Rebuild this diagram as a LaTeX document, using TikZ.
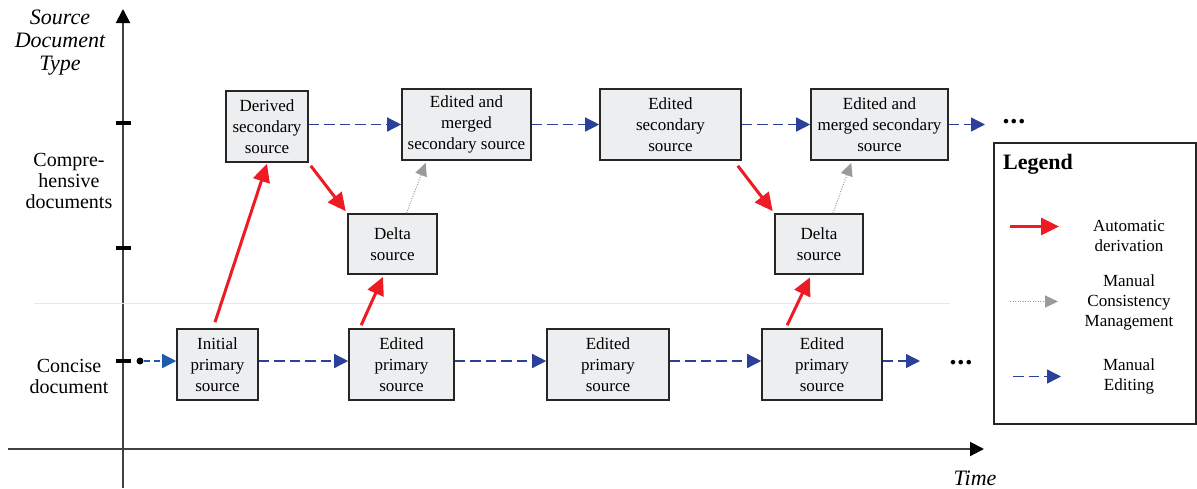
\documentclass[tikz,border=0pt]{standalone}
\usepackage{fontspec}
\setmainfont{Liberation Serif}
\usetikzlibrary{arrows.meta}
\definecolor{autored}{HTML}{ED1C24}
\definecolor{editblue}{HTML}{2B4199}
\definecolor{initblue}{HTML}{1E5BAA}
\definecolor{consgray}{HTML}{9A9A9A}
\definecolor{boxfill}{HTML}{EDEEF0}
\definecolor{boxline}{HTML}{262626}
\definecolor{axisgray}{HTML}{404040}
\definecolor{sepgray}{HTML}{E6E6E6}
\begin{document}
\begin{tikzpicture}[x=1pt,y=-1pt,
  box/.style={draw=boxline, line width=1.6pt, fill=boxfill, align=center, inner sep=0pt,
    font=\fontsize{17}{21}\selectfont},
  autoarrow/.style={draw=autored, line width=3pt, -{Triangle[length=18pt,width=17pt]}},
  editarrow/.style={draw=editblue, line width=1.4pt, dash pattern=on 10.5pt off 5pt,
    -{Triangle[length=14pt,width=14pt]}},
  initarrow/.style={draw=initblue, line width=1.5pt, dash pattern=on 6pt off 4pt,
    -{Triangle[length=14pt,width=14pt]}},
  consarrow/.style={draw=consgray, line width=1pt, dash pattern=on 1pt off 1.5pt,
    -{Triangle[length=13pt,width=12pt]}},
  axisline/.style={draw=axisgray, line width=2pt, -{Triangle[length=14pt,width=14pt,color=black]}},
  tickmark/.style={draw=black, line width=4.5pt},
  axislabel/.style={align=center, font=\fontsize{20}{21}\selectfont},
  axistitle/.style={align=center, font=\fontsize{22}{23}\selectfont\itshape},
  legtext/.style={align=center, font=\fontsize{17}{20}\selectfont},
  dotsnode/.style={anchor=base, font=\fontsize{28}{30}\selectfont\bfseries, inner sep=0pt},
]
\useasboundingbox (0,0) rectangle (1197,488);

% axes
\coordinate (yb) at (123,488);
\coordinate (yt) at (123,9);
\coordinate (xl) at (8,449);
\coordinate (xr) at (984,449);
\draw[axisline] (yb) -- (yt);
\draw[axisline] (xl) -- (xr);
\draw[tickmark] (116,123) -- (131,123);
\draw[tickmark] (116,248) -- (131,248);
\draw[tickmark] (116,361) -- (131,361);
\draw[draw=sepgray, line width=1pt] (34,303) -- (950,303);

\node[axistitle] (ttl) at (60,43) {Source\\Document\\Type};
\node[axislabel] (comp) at (69,181) {Compre-\\hensive\\documents};
\node[axislabel] (conc) at (69,376) {Concise\\document};
\node[anchor=base, font=\fontsize{22}{23}\selectfont\itshape] (time) at (975,485) {Time};

% boxes
\node[box, minimum width=82pt, minimum height=71pt] (b1) at (267,126.5) {Derived\\secondary\\source};
\node[box, minimum width=129pt, minimum height=71pt] (b2) at (466.5,124.5) {Edited and\\merged\\secondary source};
\node[box, minimum width=141pt, minimum height=71pt] (b3) at (670.5,124.5) {Edited\\secondary\\source};
\node[box, minimum width=137pt, minimum height=71pt] (b4) at (879.5,124.5) {Edited and\\merged secondary\\source};
\node[box, minimum width=89pt, minimum height=60pt] (d1) at (392.5,244) {Delta\\source};
\node[box, minimum width=88pt, minimum height=60pt] (d2) at (819,244) {Delta\\source};
\node[box, minimum width=81pt, minimum height=71pt] (p1) at (217.5,364.5) {Initial\\primary\\source};
\node[box, minimum width=105pt, minimum height=71pt] (p2) at (401.5,364.5) {Edited\\primary\\source};
\node[box, minimum width=122pt, minimum height=71pt] (p3) at (608,364.5) {Edited\\primary\\source};
\node[box, minimum width=120pt, minimum height=71pt] (p4) at (822,364.5) {Edited\\primary\\source};

% manual editing
\node[circle, fill=black, inner sep=0pt, minimum size=7pt] (s0) at (140,361) {};
\draw[initarrow] (s0) -- ([yshift=3.5pt]p1.west);
\draw[editarrow] ([yshift=3.5pt]p1.east) -- ([yshift=3.5pt]p2.west);
\draw[editarrow] ([yshift=3.5pt]p2.east) -- ([yshift=3.5pt]p3.west);
\draw[editarrow] ([yshift=3.5pt]p3.east) -- ([yshift=3.5pt]p4.west);
\coordinate (e1) at (920,361);
\draw[editarrow] ([yshift=3.5pt]p4.east) -- (e1);
\draw[editarrow] (b1.east |- b2.west) -- (b2.west);
\draw[editarrow] (b2.east) -- (b3.west);
\draw[editarrow] (b3.east) -- (b4.west);
\coordinate (e2) at (985,124.5);
\draw[editarrow] (b4.east) -- (e2);
\node[dotsnode] (dots1) at (961,364.5) {.\kern1pt.\kern1pt.};
\node[dotsnode] (dots2) at (1014,123.5) {.\kern1pt.\kern1pt.};

% automatic derivation
\draw[autoarrow] ([xshift=-2.5pt,yshift=6pt]p1.north) -- ([yshift=-1pt]b1.south);
\draw[autoarrow] ([shift={(2pt,-3pt)}]b1.south east) -- ([shift={(-1.5pt,2pt)}]d1.north west);
\draw[autoarrow] ([shift={(13pt,3pt)}]p2.north west) -- ([shift={(-9.5pt,-2pt)}]d1.south);
\draw[autoarrow] ([shift={(-4pt,-5pt)}]b3.south east) -- ([shift={(-1.5pt,2pt)}]d2.north west);
\draw[autoarrow] ([shift={(26pt,3pt)}]p4.north west) -- ([shift={(-9pt,-2.5pt)}]d2.south);

% manual consistency management
\draw[consarrow] ([xshift=14pt]d1.north) -- ([shift={(24.5pt,-2pt)}]b2.south west);
\draw[consarrow] ([xshift=14pt]d2.north) -- ([shift={(41pt,-2pt)}]b4.south west);

% legend
\node[draw=boxline, line width=1.5pt, minimum width=202pt, minimum height=281pt, inner sep=0pt] (leg) at (1095,283.5) {};
\node[anchor=west, font=\fontsize{22}{23}\selectfont\bfseries, inner sep=0pt] (legtitle) at (1003,164) {Legend};
\coordinate (la1) at (1010,226.5);
\coordinate (la2) at (1059,226.5);
\coordinate (lb1) at (1010,301.5);
\coordinate (lb2) at (1058,301.5);
\coordinate (lc1) at (1013,376.5);
\coordinate (lc2) at (1061,376.5);
\draw[autoarrow] (la1) -- (la2);
\draw[consarrow] (lb1) -- (lb2);
\draw[editarrow] (lc1) -- (lc2);
\node[legtext] (lt1) at (1129,236) {Automatic\\derivation};
\node[legtext] (lt2) at (1129,302) {Manual\\Consistency\\Management};
\node[legtext] (lt3) at (1129,376) {Manual\\Editing};
\end{tikzpicture}
\end{document}
